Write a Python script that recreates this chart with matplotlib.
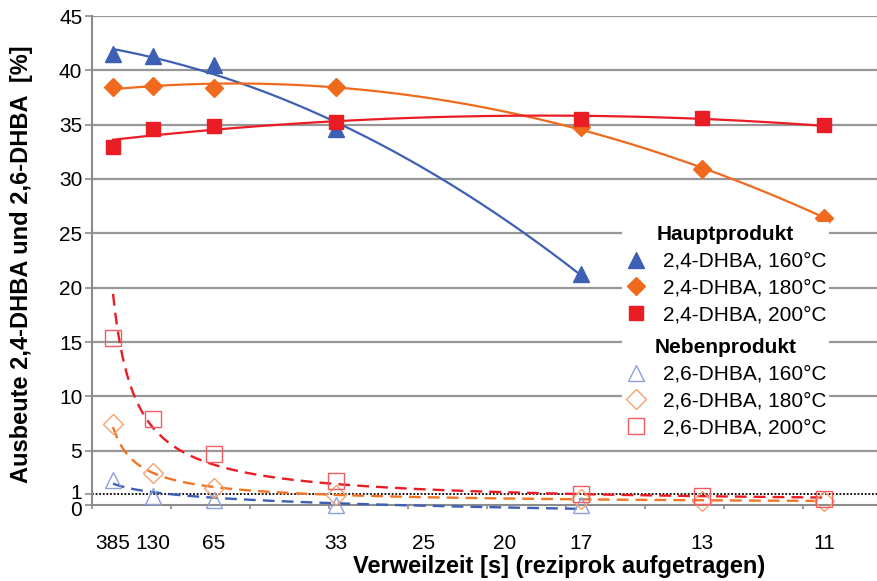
import numpy as np
import matplotlib
matplotlib.use("Agg")
import matplotlib.pyplot as plt
from matplotlib.lines import Line2D
from matplotlib.transforms import ScaledTranslation

plt.rcParams['font.family'] = ['Liberation Sans', 'DejaVu Sans']

# residence time, plotted reciprocally (x = 1000 / t)
time_labels = ["385", "130", "65", "33", "17", "13", "11"]
inv_time = [2.66, 7.72, 15.44, 30.9, 61.9, 77.2, 92.7]
# extra axis labels without measurements
extra_labels = ["25", "20"]
extra_pos = [42.0, 52.3]

# main product 2,4-DHBA yields [%]
dhba24_160 = [41.5, 41.3, 40.5, 34.6, 21.25]
dhba24_180 = [38.45, 38.6, 38.4, 38.45, 34.8, 30.9, 26.45]
dhba24_200 = [32.9, 34.6, 34.9, 35.2, 35.55, 35.6, 34.96]

# side product 2,6-DHBA yields [%]
dhba26_160 = [2.3, 0.87, 0.45, 0.0, 0.0]
dhba26_180 = [7.45, 2.9, 1.6, 0.9, 0.55, 0.4, 0.4]
dhba26_200 = [15.4, 7.9, 4.7, 2.2, 1.0, 0.8, 0.55]

blue, orange, red = '#3d5fb4', '#f06a1e', '#ea1c24'
blue_l, orange_l, red_l = '#8ba1d7', '#f7a26c', '#ef5c62'

fig = plt.figure(figsize=(8.77, 5.81), dpi=100)
ax = fig.add_axes([92 / 877, 76 / 581, 785 / 877, 489 / 581])
ax.set_xlim(0, 99.4)
ax.set_ylim(0, 45)


def xs_of(vals):
    return np.array(inv_time[:len(vals)])


def poly_trend(vals):
    x = xs_of(vals)
    c = np.polyfit(x, vals, 2)
    xx = np.linspace(x[0], x[-1], 200)
    return xx, np.polyval(c, xx)


def power_trend(vals):
    x = xs_of(vals)
    b, a = np.polyfit(np.log(x), np.log(vals), 1)
    xx = np.linspace(x[0], x[-1], 300)
    return xx, np.exp(a) * xx ** b


def log_trend(vals):
    x = xs_of(vals)
    b, a = np.polyfit(np.log(x), vals, 1)
    xx = np.linspace(x[0], x[-1], 300)
    return xx, a + b * np.log(xx)


# grid
for yv in range(5, 50, 5):
    ax.axhline(yv, color='#979797', lw=1.6, zorder=0)
ax.axhline(1, color='black', lw=1.3, ls=(0, (1, 1)), zorder=1)

# trend lines
for vals, col in [(dhba24_160, blue), (dhba24_180, orange), (dhba24_200, red)]:
    xx, yy = poly_trend(vals)
    ax.plot(xx, yy, color=col, lw=1.6, zorder=3)

dash = (0, (5, 3))
xx, yy = power_trend(dhba26_200)
ax.plot(xx, yy, color=red, lw=1.7, ls=dash, zorder=3)
xx, yy = power_trend(dhba26_180)
ax.plot(xx, yy, color='#f07526', lw=1.7, ls=dash, zorder=3)
xx, yy = log_trend(dhba26_160)
ax.plot(xx, yy, color=blue, lw=1.7, ls=dash, zorder=3, clip_on=False)

# data points
ax.plot(xs_of(dhba24_160), dhba24_160, ls='none', marker='^', ms=12,
        mfc=blue, mec=blue, zorder=4)
ax.plot(xs_of(dhba24_180), dhba24_180, ls='none', marker='D', ms=9.5,
        mfc=orange, mec=orange, zorder=4)
ax.plot(xs_of(dhba24_200), dhba24_200, ls='none', marker='s', ms=10,
        mfc=red, mec=red, zorder=4)
ax.plot(xs_of(dhba26_160), dhba26_160, ls='none', marker='^', ms=12,
        mfc='none', mec=blue_l, mew=1.0, zorder=4, clip_on=False)
ax.plot(xs_of(dhba26_180), dhba26_180, ls='none', marker='D', ms=10,
        mfc='none', mec=orange_l, mew=1.0, zorder=4, clip_on=False)
ax.plot(xs_of(dhba26_200), dhba26_200, ls='none', marker='s', ms=11,
        mfc='none', mec=red_l, mew=1.0, zorder=4, clip_on=False)

# axes styling
for s in ['top', 'right']:
    ax.spines[s].set_visible(False)
for s in ['left', 'bottom']:
    ax.spines[s].set_color('#8c8c8c')
    ax.spines[s].set_linewidth(1.5)

ax.set_yticks([0, 1, 5, 10, 15, 20, 25, 30, 35, 40, 45])
ax.tick_params(axis='y', direction='out', length=5, width=1.2, color='#8c8c8c',
               labelsize=15, pad=2)
# nudge the crowded "0" and "1" labels apart
ylabels = ax.get_yticklabels()
ylabels[0].set_transform(ylabels[0].get_transform()
                         + ScaledTranslation(0, -4 / 100, fig.dpi_scale_trans))
ylabels[1].set_transform(ylabels[1].get_transform()
                         + ScaledTranslation(0, 3 / 100, fig.dpi_scale_trans))

ax.set_xticks(np.arange(0, 100, 10))
ax.set_xticklabels([])
ax.tick_params(axis='x', which='major', direction='out', length=3, width=1.2,
               color='#8c8c8c')
ax.set_xticks(inv_time + extra_pos, minor=True)
ax.set_xticklabels(time_labels + extra_labels, minor=True)
ax.tick_params(axis='x', which='minor', length=0, labelsize=15, pad=21)

ax.set_ylabel('Ausbeute 2,4-DHBA und 2,6-DHBA  [%]', fontsize=17,
              fontweight='bold', va='center')
ax.yaxis.set_label_coords((22 - 92) / 785, (505 - 264) / 489)
ax.set_xlabel('Verweilzeit [s] (reziprok aufgetragen)', fontsize=17,
              fontweight='bold', va='center')
ax.xaxis.set_label_coords((559 - 92) / 785, -(566 - 505) / 489)


# legends
def legend_block(title, entries, anchor_px):
    handles = [Line2D([], [], ls='none', **kw) for kw, _ in entries]
    labels = [lab for _, lab in entries]
    leg = ax.legend(handles, labels, title=title, loc='upper left',
                    bbox_to_anchor=(anchor_px[0] / 877, 1 - anchor_px[1] / 581),
                    bbox_transform=fig.transFigure, fontsize=15,
                    title_fontproperties={'weight': 'bold', 'size': 15},
                    frameon=True, fancybox=False, framealpha=1,
                    edgecolor='none', facecolor='white', borderpad=0.15,
                    labelspacing=0.37, handlelength=1.0, handletextpad=0.8,
                    borderaxespad=0, markerfirst=True)
    leg.set_zorder(5)
    return leg


leg1 = legend_block('Hauptprodukt', [
    (dict(marker='^', ms=12, mfc=blue, mec=blue), '2,4-DHBA, 160°C'),
    (dict(marker='D', ms=9.5, mfc=orange, mec=orange), '2,4-DHBA, 180°C'),
    (dict(marker='s', ms=10, mfc=red, mec=red), '2,4-DHBA, 200°C'),
], (622, 222))
ax.add_artist(leg1)
legend_block('Nebenprodukt', [
    (dict(marker='^', ms=12, mfc='none', mec=blue_l, mew=1.0), '2,6-DHBA, 160°C'),
    (dict(marker='D', ms=10, mfc='none', mec=orange_l, mew=1.0), '2,6-DHBA, 180°C'),
    (dict(marker='s', ms=11, mfc='none', mec=red_l, mew=1.0), '2,6-DHBA, 200°C'),
], (622, 335))

fig.savefig('out.png', dpi=100)
